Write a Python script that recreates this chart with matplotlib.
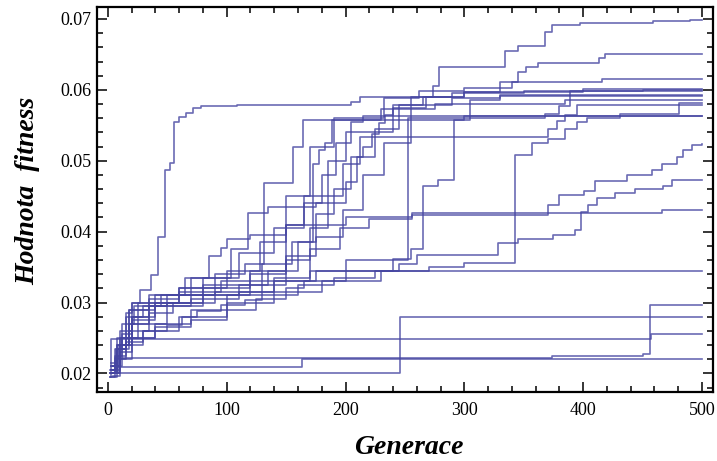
import matplotlib
matplotlib.use("Agg")
import matplotlib.pyplot as plt
from matplotlib.ticker import MultipleLocator

# Best-fitness history of individual GA runs: (generation, fitness) change points
run_01 = [(2,0.0205),(6,0.0235),(12,0.027),(22,0.0295),(45,0.031),(80,0.0325),(120,0.034),(150,0.0365),(175,0.0392),(198,0.043),(215,0.048),(232,0.0525),(255,0.0575),(268,0.059),(274,0.0605),(279,0.0632),(334,0.0655),(345,0.0662),(368,0.0681),(374,0.0691),(397,0.0694),(459,0.0697),(490,0.0698),(500,0.0698)]
run_02 = [(2,0.020),(8,0.025),(18,0.029),(35,0.031),(70,0.0335),(110,0.037),(140,0.0405),(165,0.045),(185,0.050),(200,0.054),(240,0.0575),(255,0.059),(300,0.0597),(330,0.0611),(345,0.0625),(352,0.0632),(362,0.0638),(413,0.0645),(418,0.0650),(500,0.0650)]
run_03 = [(3,0.021),(10,0.026),(20,0.030),(60,0.032),(100,0.0345),(128,0.0385),(150,0.045),(170,0.052),(190,0.056),(232,0.0588),(262,0.0598),(300,0.0603),(340,0.0611),(416,0.0616),(500,0.0616)]
run_04 = [(2,0.0195),(8,0.024),(15,0.0285),(20,0.030),(27,0.0317),(36,0.0339),(42,0.0392),(48,0.0487),(52,0.0497),(56,0.0554),(60,0.0562),(66,0.0568),(72,0.0575),(78,0.0577),(109,0.0579),(205,0.0583),(212,0.0590),(290,0.0595),(350,0.0599),(450,0.0600),(500,0.0600)]
run_05 = [(3,0.0205),(8,0.024),(18,0.029),(40,0.031),(90,0.034),(115,0.0355),(131,0.0468),(156,0.0519),(164,0.0557),(300,0.0563),(500,0.0563)]
run_06 = [(4,0.021),(12,0.025),(25,0.030),(60,0.032),(120,0.0345),(160,0.0385),(173,0.0496),(178,0.0515),(183,0.0525),(189,0.0557),(230,0.0573),(275,0.0580),(385,0.0585),(500,0.0585)]
run_07 = [(3,0.020),(10,0.023),(20,0.027),(50,0.030),(80,0.0335),(104,0.0375),(118,0.0426),(135,0.0435),(175,0.044),(200,0.047),(210,0.0505),(225,0.0545),(245,0.0578),(290,0.0588),(330,0.0593),(500,0.0593)]
run_08 = [(2,0.020),(7,0.0235),(15,0.028),(35,0.0305),(60,0.0315),(95,0.033),(130,0.0355),(155,0.0385),(175,0.0425),(190,0.046),(205,0.0505),(215,0.052),(222,0.0538),(228,0.0553),(233,0.0564),(240,0.0578),(265,0.0590),(300,0.0597),(400,0.0601),(500,0.0601)]
run_09 = [(4,0.020),(10,0.022),(20,0.025),(40,0.027),(70,0.029),(100,0.031),(130,0.033),(170,0.0345),(200,0.036),(253,0.0560),(368,0.0566),(380,0.0577),(389,0.0598),(500,0.0598)]
run_10 = [(3,0.021),(9,0.024),(18,0.026),(35,0.0285),(55,0.030),(90,0.0315),(140,0.033),(200,0.0345),(240,0.0362),(255,0.0375),(265,0.0465),(278,0.0473),(291,0.0557),(305,0.0585),(330,0.0592),(500,0.0592)]
run_11 = [(3,0.020),(8,0.022),(15,0.024),(30,0.026),(60,0.028),(100,0.030),(140,0.0315),(180,0.033),(230,0.0345),(270,0.0350),(300,0.0356),(343,0.0508),(357,0.0525),(370,0.0530),(385,0.0545),(395,0.0555),(403,0.0561),(431,0.0566),(481,0.0582),(500,0.0582)]
run_12 = [(3,0.0205),(10,0.025),(20,0.028),(40,0.030),(70,0.031),(110,0.0325),(135,0.0345),(150,0.041),(165,0.044),(180,0.048),(192,0.0525),(205,0.0555),(215,0.0563),(500,0.0563)]
run_13 = [(3,0.020),(9,0.0235),(18,0.027),(35,0.0295),(80,0.031),(120,0.0325),(150,0.036),(170,0.0405),(185,0.045),(198,0.0495),(212,0.0533),(370,0.0545),(378,0.0556),(385,0.0565),(395,0.0578),(500,0.0578)]
run_14 = [(2,0.020),(6,0.0225),(12,0.0255),(20,0.028),(30,0.0295),(50,0.031),(65,0.0335),(85,0.0365),(95,0.0377),(100,0.039),(120,0.0395),(150,0.041),(200,0.0420),(256,0.0424),(370,0.0437),(380,0.0451),(401,0.0458),(410,0.0472),(437,0.0480),(458,0.0487),(466,0.0495),(479,0.0505),(484,0.0515),(492,0.0522),(500,0.0523)]
run_15 = [(3,0.0205),(8,0.0225),(15,0.0245),(30,0.026),(50,0.0268),(62,0.028),(75,0.0288),(95,0.0296),(115,0.0303),(130,0.031),(160,0.0325),(190,0.0335),(225,0.0345),(245,0.0355),(260,0.0367),(328,0.0384),(345,0.0390),(375,0.0395),(393,0.0402),(398,0.0428),(404,0.0437),(412,0.0448),(427,0.0455),(444,0.0460),(467,0.0465),(475,0.0473),(500,0.0473)]
run_16 = [(4,0.021),(10,0.024),(20,0.0275),(40,0.0295),(70,0.0305),(110,0.0315),(140,0.0335),(170,0.0375),(195,0.0405),(220,0.0418),(256,0.0426),(466,0.0430),(500,0.0430)]
run_17 = [(3,0.0215),(8,0.0235),(15,0.025),(40,0.0265),(70,0.0275),(100,0.029),(125,0.0305),(150,0.032),(165,0.033),(175,0.0345),(500,0.0345)]
run_18 = [(3,0.0195),(6,0.0222),(374,0.0224),(450,0.0228),(456,0.0297),(500,0.0297)]
run_19 = [(3,0.0205),(8,0.0209),(163,0.0220),(500,0.0220)]
run_20 = [(4,0.0197),(10,0.0201),(246,0.0280),(500,0.0280)]
run_21 = [(2,0.0195),(3,0.0249),(457,0.0256),(500,0.0256)]

runs = [run_01, run_02, run_03, run_04, run_05, run_06, run_07, run_08, run_09, run_10,
        run_11, run_12, run_13, run_14, run_15, run_16, run_17, run_18, run_19, run_20, run_21]

x_ticks = [0, 100, 200, 300, 400, 500]
y_ticks = [0.02, 0.03, 0.04, 0.05, 0.06, 0.07]
x_label = "Generace"
y_label = "Hodnota  fitness"

fig = plt.figure(figsize=(7.17, 4.61), dpi=100)
ax = fig.add_axes([0.135, 0.150, 0.859, 0.835])

line_color = (0.27, 0.27, 0.63)
for run in runs:
    xs = [p[0] for p in run]
    ys = [p[1] for p in run]
    ax.plot(xs, ys, drawstyle="steps-post", color=line_color, alpha=0.8, lw=1.2)

ax.set_xlim(-9.3, 509)
ax.set_ylim(0.0174, 0.0717)
ax.set_xticks(x_ticks)
ax.set_yticks(y_ticks)
ax.set_xticklabels([str(v) for v in x_ticks])
ax.set_yticklabels([f"{v:.2f}" for v in y_ticks])
ax.xaxis.set_minor_locator(MultipleLocator(20))
ax.yaxis.set_minor_locator(MultipleLocator(0.002))

ax.tick_params(which="both", direction="in", top=True, right=True, width=1.1, color="black")
ax.tick_params(which="major", length=7)
ax.tick_params(which="minor", length=4)
ax.tick_params(axis="x", which="major", pad=7)
ax.tick_params(axis="y", which="major", pad=4)
for lab in ax.get_xticklabels() + ax.get_yticklabels():
    lab.set_fontfamily("Liberation Serif")
    lab.set_fontsize(13)
for sp in ax.spines.values():
    sp.set_linewidth(1.6)

fig.text(0.038, 0.585, y_label, rotation=90, ha="center", va="center",
         family="Liberation Serif", style="italic", weight="bold", fontsize=20)
fig.text(0.57, 0.03, x_label, ha="center", va="center",
         family="Liberation Serif", style="italic", weight="bold", fontsize=20)

fig.savefig("out.png", dpi=100)
